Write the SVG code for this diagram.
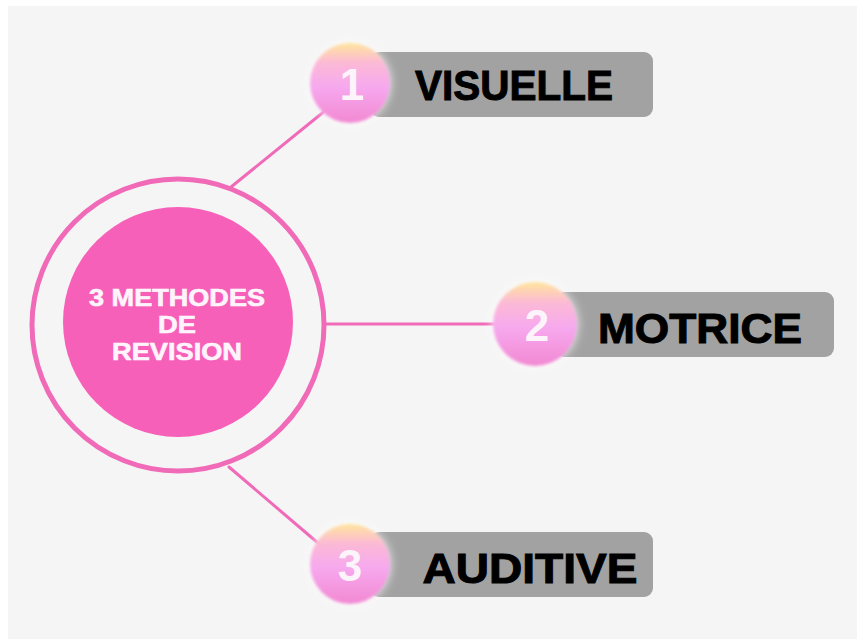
<svg xmlns="http://www.w3.org/2000/svg" width="862" height="639" viewBox="0 0 862 639">
<style>
.conn{stroke:#f06ab8;stroke-width:3;fill:none;stroke-linecap:round}
.bar{fill:#a2a2a2}
.lbl{font-family:"Liberation Sans",Arial,sans-serif;font-weight:bold;font-size:42px;fill:#000000;stroke:#000000;stroke-width:1;text-anchor:middle}
.num{font-family:"Liberation Sans",Arial,sans-serif;font-weight:bold;font-size:44px;fill:#fdf4fb;text-anchor:middle}
.ctr{font-family:"Liberation Sans",Arial,sans-serif;font-weight:bold;font-size:23px;fill:#fff4fb;stroke:#fff4fb;stroke-width:0.6;text-anchor:middle}
</style>
<defs>
<linearGradient id="bg" x1="0" y1="0" x2="0" y2="1">
<stop offset="0" stop-color="#ffe59c"/>
<stop offset="0.25" stop-color="#fcb9d6"/>
<stop offset="0.55" stop-color="#f6a8ee"/>
<stop offset="1" stop-color="#f288d2"/>
</linearGradient>
<filter id="soft" x="-30%" y="-30%" width="160%" height="160%">
<feGaussianBlur stdDeviation="1.5"/>
</filter>
<filter id="glow" x="-30%" y="-30%" width="160%" height="160%">
<feGaussianBlur stdDeviation="4"/>
</filter>
</defs>
<rect x="0" y="0" width="862" height="639" fill="#ffffff"/>
<rect x="8" y="6" width="849" height="633" fill="#f5f5f5"/>
<g id="connectors">
<line class="conn" x1="231" y1="187" x2="326" y2="110"/>
<line class="conn" x1="326" y1="324" x2="497" y2="324"/>
<line class="conn" x1="229" y1="467" x2="318" y2="543"/>
</g>
<g id="center">
<circle cx="178" cy="325" r="146" fill="none" stroke="#f06ab8" stroke-width="5"/>
<circle cx="178" cy="322" r="115" fill="#f760b9"/>
<text class="ctr" x="177" y="306" textLength="176" lengthAdjust="spacingAndGlyphs">3 METHODES</text>
<text class="ctr" x="177" y="333" textLength="38" lengthAdjust="spacingAndGlyphs">DE</text>
<text class="ctr" x="177" y="360" textLength="130" lengthAdjust="spacingAndGlyphs">REVISION</text>
</g>
<g id="node1">
<rect class="bar" x="370" y="52" width="283" height="65" rx="9"/>
<circle cx="350" cy="83" r="42" fill="#ffffff" opacity="0.6" filter="url(#glow)"/>
<circle cx="350" cy="83" r="40" fill="url(#bg)" filter="url(#soft)"/>
<text class="num" x="352" y="100">1</text>
<text class="lbl" x="514" y="100" textLength="198" lengthAdjust="spacingAndGlyphs">VISUELLE</text>
</g>
<g id="node2">
<rect class="bar" x="555" y="292" width="279" height="65" rx="9"/>
<circle cx="535" cy="324" r="44" fill="#ffffff" opacity="0.6" filter="url(#glow)"/>
<circle cx="535" cy="324" r="42" fill="url(#bg)" filter="url(#soft)"/>
<text class="num" x="537" y="341">2</text>
<text class="lbl" x="700" y="343" textLength="204" lengthAdjust="spacingAndGlyphs">MOTRICE</text>
</g>
<g id="node3">
<rect class="bar" x="370" y="532" width="283" height="65" rx="9"/>
<circle cx="350" cy="564" r="42" fill="#ffffff" opacity="0.6" filter="url(#glow)"/>
<circle cx="350" cy="564" r="40" fill="url(#bg)" filter="url(#soft)"/>
<text class="num" x="350" y="581">3</text>
<text class="lbl" x="530" y="583" textLength="215" lengthAdjust="spacingAndGlyphs">AUDITIVE</text>
</g>
</svg>
